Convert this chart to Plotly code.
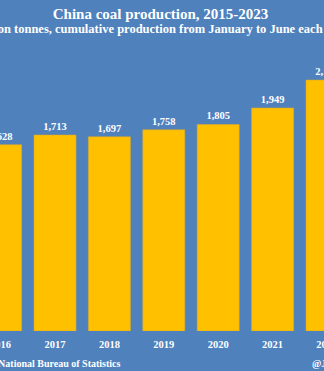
import plotly.graph_objects as go

years = [2016, 2017, 2018, 2019, 2020, 2021, 2022]
production = [1628, 1713, 1697, 1758, 1805, 1949, 2193]
labels = [f"{v:,}" for v in production]
tick_text = [str(y) for y in years]

title = "China coal production, 2015-2023"
subtitle = "Million tonnes, cumulative production from January to June each year"
source = "Source: National Bureau of Statistics"
handle = "@JKempEnergy"

BG = "#4F81BD"
GOLD = "#FFC000"
FONT = "Liberation Serif"

W, H = 324, 371
ML, MR, MT, MB = 0, 0, 45, 40
pitch = 54.4
x0 = 2017 - 55 / pitch
x1 = x0 + W / pitch
ymax = (H - MT - MB) / 0.11442
ph = H - MT - MB

tickfont = dict(family=FONT, size=10.5, color="white", weight="bold")
axis_common = dict(range=[x0, x1], tickmode="array", showgrid=False, zeroline=False,
                   showline=False, ticks="", ticklabeloverflow="allow", automargin=False,
                   ticklabelstandoff=5, tickfont=tickfont)

fig = go.Figure()
fig.add_trace(go.Bar(
    x=years, y=production, text=labels, textposition="outside",
    marker=dict(color=GOLD, line=dict(color="#D9A82E", width=0.6)),
    textfont=dict(family=FONT, size=10.5, color="white", weight="bold"),
    cliponaxis=True, hoverinfo="skip",
))

fig.update_layout(
    width=W, height=H,
    margin=dict(l=ML, r=MR, t=MT, b=MB, pad=0, autoexpand=False),
    paper_bgcolor=BG, plot_bgcolor=BG,
    bargap=0.228, showlegend=False,
    font=dict(family=FONT, color="white"),
    title=dict(text=f"<b>{title}</b>", x=160.5 / W, xanchor="center",
               y=1 - 13.5 / H, yanchor="middle", yref="container",
               font=dict(family=FONT, size=15, color="white")),
    xaxis=dict(tickvals=years, ticktext=tick_text, **axis_common),
    xaxis2=dict(overlaying="x", anchor="y", side="bottom",
                tickvals=[years[-1] - 0.5], ticktext=[tick_text[-1]],
                ticklabelshift=int(round(pitch / 2)), **axis_common),
    yaxis=dict(range=[0, ymax], visible=False),
    annotations=[
        dict(text=f"<b>{subtitle}</b>", xref="paper", yref="paper",
             x=160.5 / W, y=(H - MB - 29) / ph, xanchor="center", yanchor="middle",
             showarrow=False, font=dict(family=FONT, size=12.5, color="white")),
        dict(text=f"<b>{source}</b>", xref="paper", yref="paper",
             x=123 / W, y=(H - MB - 363) / ph, xanchor="right", yanchor="middle",
             showarrow=False, font=dict(family=FONT, size=10, color="white")),
        dict(text=f"<b>{handle}</b>", xref="paper", yref="paper",
             x=309.7 / W, y=(H - MB - 363) / ph, xanchor="left", yanchor="middle",
             showarrow=False, font=dict(family=FONT, size=10, color="white")),
    ],
)
# empty trace to activate xaxis2
fig.add_trace(go.Bar(x=[], y=[], xaxis="x2", showlegend=False, hoverinfo="skip"))

fig.write_html("out.html")
